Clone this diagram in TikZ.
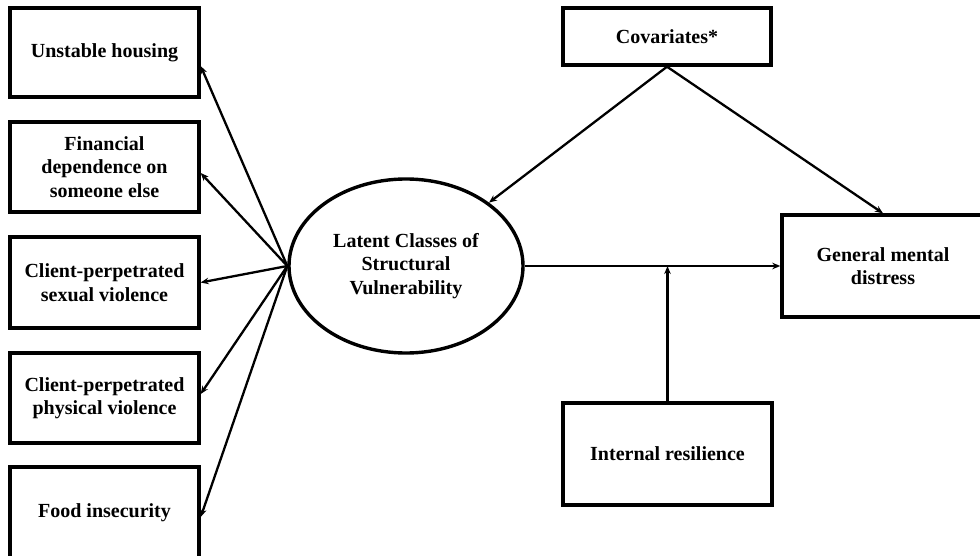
\documentclass[tikz,border=0pt]{standalone}
\usepackage{fontspec}
\setmainfont{Liberation Serif}
\usetikzlibrary{arrows.meta,calc,shapes.geometric}
\begin{document}
\begin{tikzpicture}[x=1pt,y=-1pt,
  box/.style={draw, line width=3.4pt, rectangle, inner sep=0pt, align=center,
    font=\bfseries\fontsize{20}{23.5}\selectfont},
  lbox/.style={box, minimum width=189pt},
  conn/.style={line width=2.3pt, -{Stealth[length=8pt,width=6.5pt]}}]
\useasboundingbox (0,0) rectangle (980,556);
\fill[white] (0,0) rectangle (980,556);
% left indicator boxes
\node[lbox, minimum height=89pt] (u1) at (104.5,52.5) {Unstable housing};
\node[lbox, minimum height=90pt] (u2) at (104.5,167) {Financial\\dependence on\\someone else};
\node[lbox, minimum height=91pt] (u3) at (104.5,282.5) {Client-perpetrated\\sexual violence};
\node[lbox, minimum height=90pt] (u4) at (104.5,398) {Client-perpetrated\\physical violence};
\node[lbox, minimum height=91pt] (u5) at (104.5,512.5) {Food insecurity};
% latent ellipse
\node[draw, ellipse, line width=3.4pt, inner sep=0pt, minimum width=234pt, minimum height=174pt,
  align=center, font=\bfseries\fontsize{20}{23.5}\selectfont] (L) at (406,266)
  {Latent Classes of\\Structural\\Vulnerability};
% right boxes
\node[box, minimum width=208pt, minimum height=57pt] (cov) at (667,36.5) {Covariates*};
\node[box, minimum width=202pt, minimum height=102pt] (gmd) at (883,266) {General mental\\distress};
\node[box, minimum width=209pt, minimum height=102pt] (res) at (667.5,454) {Internal resilience};
% connectors
\draw[conn] (L.west) -- ([yshift=-13.5pt]u1.east);
\draw[conn] (L.west) -- ([yshift=-6pt]u2.east);
\draw[conn] (L.west) -- (u3.east);
\draw[conn] (L.west) -- ([yshift=4pt]u4.east);
\draw[conn] (L.west) -- ([yshift=-4.5pt]u5.east);
\draw[conn] (cov.south) -- (L);
\draw[conn] (cov.south) -- (gmd.north);
\draw[conn] (L.east) -- (gmd.west);
\draw[conn] (res.north) -- (res.north |- gmd.west);
\end{tikzpicture}
\end{document}
